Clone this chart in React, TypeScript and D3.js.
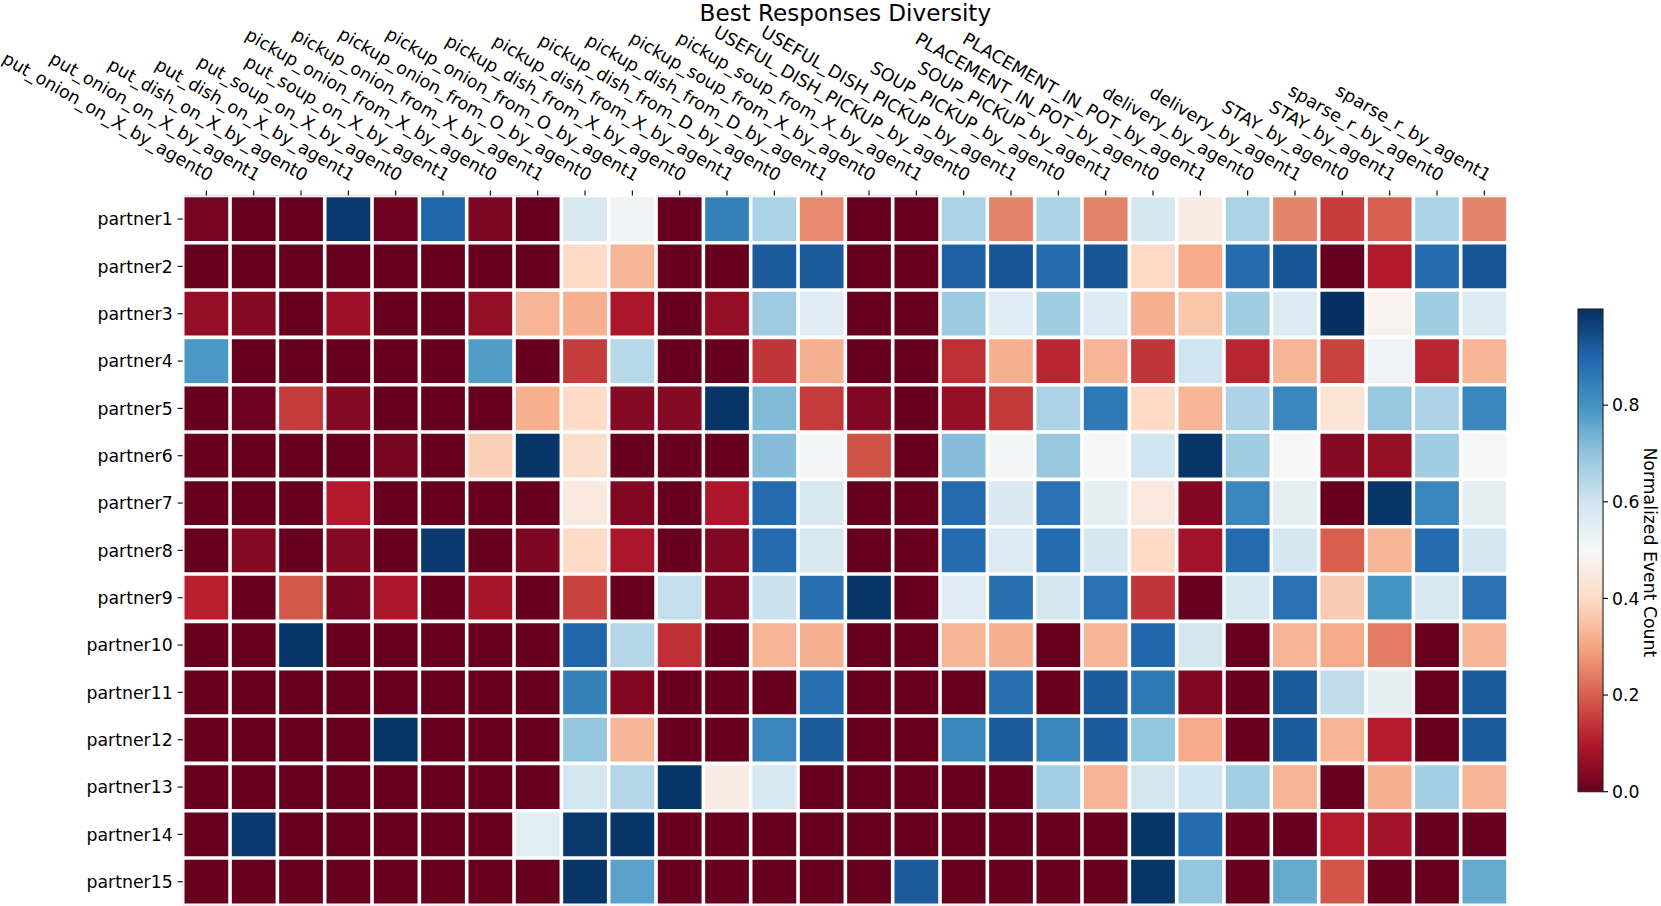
import * as d3 from 'd3'

const columns = [
  'put_onion_on_X_by_agent0', 'put_onion_on_X_by_agent1',
  'put_dish_on_X_by_agent0', 'put_dish_on_X_by_agent1',
  'put_soup_on_X_by_agent0', 'put_soup_on_X_by_agent1',
  'pickup_onion_from_X_by_agent0', 'pickup_onion_from_X_by_agent1',
  'pickup_onion_from_O_by_agent0', 'pickup_onion_from_O_by_agent1',
  'pickup_dish_from_X_by_agent0', 'pickup_dish_from_X_by_agent1',
  'pickup_dish_from_D_by_agent0', 'pickup_dish_from_D_by_agent1',
  'pickup_soup_from_X_by_agent0', 'pickup_soup_from_X_by_agent1',
  'USEFUL_DISH_PICKUP_by_agent0', 'USEFUL_DISH_PICKUP_by_agent1',
  'SOUP_PICKUP_by_agent0', 'SOUP_PICKUP_by_agent1',
  'PLACEMENT_IN_POT_by_agent0', 'PLACEMENT_IN_POT_by_agent1',
  'delivery_by_agent0', 'delivery_by_agent1',
  'STAY_by_agent0', 'STAY_by_agent1',
  'sparse_r_by_agent0', 'sparse_r_by_agent1',
]

const partners = [
  'partner1', 'partner2', 'partner3', 'partner4', 'partner5',
  'partner6', 'partner7', 'partner8', 'partner9', 'partner10',
  'partner11', 'partner12', 'partner13', 'partner14', 'partner15',
]

// normalized event counts, one row per partner
const eventCounts: number[][] = [
  [0.02, 0, 0, 0.98, 0.01, 0.9, 0.03, 0, 0.58, 0.52, 0, 0.84, 0.66, 0.26, 0, 0, 0.66, 0.25, 0.66, 0.25, 0.59, 0.46, 0.66, 0.25, 0.15, 0.2, 0.66, 0.25],
  [0, 0, 0, 0, 0, 0, 0, 0, 0.4, 0.33, 0, 0, 0.92, 0.92, 0, 0, 0.91, 0.93, 0.89, 0.93, 0.4, 0.31, 0.89, 0.93, 0, 0.1, 0.89, 0.93],
  [0.06, 0.04, 0, 0.07, 0, 0, 0.06, 0.33, 0.32, 0.09, 0, 0.06, 0.68, 0.56, 0, 0, 0.685, 0.56, 0.675, 0.57, 0.32, 0.36, 0.675, 0.57, 0.999, 0.48, 0.675, 0.57],
  [0.79, 0, 0, 0, 0, 0, 0.78, 0, 0.15, 0.64, 0, 0, 0.14, 0.32, 0, 0, 0.13, 0.32, 0.12, 0.33, 0.14, 0.6, 0.12, 0.33, 0.16, 0.52, 0.12, 0.33],
  [0, 0.01, 0.15, 0.04, 0, 0, 0, 0.32, 0.4, 0.04, 0.04, 0.99, 0.72, 0.15, 0.035, 0, 0.06, 0.145, 0.66, 0.86, 0.4, 0.33, 0.655, 0.83, 0.43, 0.69, 0.655, 0.83],
  [0, 0, 0, 0, 0.02, 0, 0.38, 0.99, 0.41, 0, 0, 0, 0.715, 0.51, 0.18, 0, 0.715, 0.51, 0.69, 0.5, 0.6, 0.99, 0.675, 0.5, 0.04, 0.06, 0.675, 0.5],
  [0, 0, 0, 0.1, 0, 0, 0, 0, 0.45, 0.035, 0, 0.09, 0.89, 0.58, 0, 0, 0.89, 0.575, 0.875, 0.55, 0.45, 0.035, 0.83, 0.55, 0, 0.99, 0.83, 0.55],
  [0, 0.04, 0, 0.04, 0, 0.98, 0, 0.03, 0.4, 0.09, 0, 0.035, 0.89, 0.58, 0, 0, 0.89, 0.57, 0.89, 0.59, 0.4, 0.08, 0.89, 0.59, 0.2, 0.33, 0.89, 0.59],
  [0.11, 0, 0.19, 0.02, 0.09, 0, 0.085, 0, 0.16, 0, 0.62, 0.02, 0.61, 0.88, 0.99, 0, 0.56, 0.88, 0.595, 0.875, 0.14, 0, 0.585, 0.875, 0.37, 0.8, 0.585, 0.875],
  [0, 0, 0.99, 0, 0, 0, 0, 0, 0.9, 0.645, 0.13, 0, 0.33, 0.32, 0, 0, 0.33, 0.32, 0, 0.33, 0.9, 0.595, 0, 0.33, 0.31, 0.24, 0, 0.33],
  [0, 0, 0, 0, 0, 0, 0, 0, 0.84, 0.035, 0, 0, 0, 0.88, 0, 0, 0, 0.88, 0, 0.92, 0.86, 0.035, 0, 0.92, 0.625, 0.55, 0, 0.92],
  [0, 0, 0, 0, 0.99, 0, 0, 0, 0.695, 0.33, 0, 0, 0.83, 0.92, 0, 0, 0.83, 0.92, 0.83, 0.92, 0.695, 0.31, 0, 0.92, 0.33, 0.105, 0, 0.92],
  [0, 0, 0, 0, 0, 0, 0, 0, 0.595, 0.645, 0.99, 0.46, 0.585, 0, 0, 0, 0, 0, 0.67, 0.33, 0.595, 0.6, 0.67, 0.33, 0, 0.32, 0.67, 0.33],
  [0, 0.98, 0, 0, 0, 0, 0, 0.555, 0.985, 0.99, 0, 0, 0, 0, 0, 0, 0, 0, 0, 0, 0.99, 0.89, 0, 0, 0.105, 0.08, 0, 0],
  [0, 0, 0, 0, 0, 0, 0, 0, 0.99, 0.77, 0, 0, 0, 0, 0, 0.92, 0, 0, 0, 0, 0.99, 0.695, 0, 0.755, 0.185, 0, 0, 0.755],
]

const colorbarTicks = [0, 0.2, 0.4, 0.6, 0.8]

const RDBU = ['#67001f', '#b2182b', '#d6604d', '#f4a582', '#fddbc7', '#f7f7f7', '#d1e5f0', '#92c5de', '#4393c3', '#2166ac', '#053061']

const W = 1661
const H = 906
const FONT = 'DejaVu Sans, sans-serif'
const FS = 17.3

export default function App() {
  const vmin = 0
  const vmax = d3.max(eventCounts.flat()) as number

  const x = d3.scaleBand<string>().domain(columns).range([182.7, 1508])
  const y = d3.scaleBand<string>().domain(partners).range([195.4, 905.4])
  const bw = x.bandwidth()
  const bh = y.bandwidth()

  const stops = RDBU.map((_, i) => vmin + (i / 10) * (vmax - vmin))
  const color = d3.scaleLinear<string>().domain(stops).range(RDBU).interpolate(d3.interpolateRgb).clamp(true)

  const cb = { x0: 1578, x1: 1603, top: 309, bottom: 791.7 }
  const cy = d3.scaleLinear().domain([vmin, vmax]).range([cb.bottom, cb.top])

  const [hx0, hx1] = x.range()
  const [hy0, hy1] = y.range()

  return (
    <svg width={W} height={H} style={{ position: 'absolute', left: 0, top: 0, background: '#fff' }} fontFamily={FONT}>
      <defs>
        <clipPath id="heat-clip">
          <rect x={hx0} y={hy0} width={hx1 - hx0} height={hy1 - hy0} />
        </clipPath>
        <linearGradient id="cbar-grad" x1="0" y1="1" x2="0" y2="0">
          {d3.range(0, 41).map(i => {
            const v = vmin + (i / 40) * (vmax - vmin)
            return <stop key={i} offset={`${(i / 40) * 100}%`} stopColor={color(v)} />
          })}
        </linearGradient>
      </defs>

      <text x={(hx0 + hx1) / 2} y={21} textAnchor="middle" fontSize={23.1}>Best Responses Diversity</text>

      <g clipPath="url(#heat-clip)">
        {eventCounts.map((row, r) =>
          row.map((v, c) => (
            <rect key={`${r}-${c}`} x={x(columns[c])} y={y(partners[r])} width={bw} height={bh} fill={color(v)} />
          ))
        )}
        {d3.range(columns.length + 1).map(i => (
          <line key={`gx${i}`} x1={hx0 + i * bw} x2={hx0 + i * bw} y1={hy0} y2={hy1} stroke="#fff" strokeWidth={3.6} />
        ))}
        {d3.range(partners.length + 1).map(i => (
          <line key={`gy${i}`} x1={hx0} x2={hx1} y1={hy0 + i * bh} y2={hy0 + i * bh} stroke="#fff" strokeWidth={3.6} />
        ))}
      </g>

      {columns.map(c => {
        const cx = (x(c) as number) + bw / 2
        return (
          <g key={c}>
            <line x1={cx} x2={cx} y1={hy0 - 5} y2={hy0} stroke="#000" strokeWidth={1.1} />
            <text transform={`translate(${cx},${hy0 - 10}) rotate(30)`} textAnchor="end" dy="-0.236em" fontSize={17.6}>{c}</text>
          </g>
        )
      })}

      {partners.map(p => {
        const py = (y(p) as number) + bh / 2
        return (
          <g key={p}>
            <line x1={hx0 - 5} x2={hx0} y1={py} y2={py} stroke="#000" strokeWidth={1.1} />
            <text x={hx0 - 10} y={py} dy="0.36em" textAnchor="end" fontSize={FS}>{p}</text>
          </g>
        )
      })}

      <rect x={cb.x0} y={cb.top} width={cb.x1 - cb.x0} height={cb.bottom - cb.top} fill="url(#cbar-grad)" stroke="#222" strokeWidth={1.1} />
      {colorbarTicks.map(t => (
        <g key={t}>
          <line x1={cb.x1} x2={cb.x1 + 5} y1={cy(t)} y2={cy(t)} stroke="#000" strokeWidth={1.1} />
          <text x={cb.x1 + 9} y={cy(t)} dy="0.36em" fontSize={FS}>{t.toFixed(1)}</text>
        </g>
      ))}
      <text transform={`translate(1644,${(cb.top + cb.bottom) / 2 + 2}) rotate(90)`} textAnchor="middle" fontSize={FS}>Normalized Event Count</text>
    </svg>
  )
}
